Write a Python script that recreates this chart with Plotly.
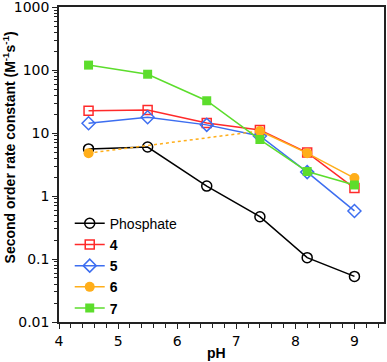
import plotly.graph_objects as go

ph = [4.5, 5.5, 6.5, 7.4, 8.2, 9.0]
phosphate = [5.6, 6.0, 1.44, 0.47, 0.105, 0.053]
cmp4 = [22.6, 23.3, 14.5, 11.2, 4.9, 1.34]
cmp5 = [14.3, 17.8, 13.5, 9.0, 2.4, 0.58]
cmp6_ph = [4.5, 7.4, 8.2, 9.0]
cmp6 = [4.8, 10.8, 4.8, 1.93]
cmp7 = [120, 86, 32.6, 7.9, 2.45, 1.5]

y_tickvals = [0.01, 0.1, 1, 10, 100, 1000]
y_ticktext = ["0.01", "0.1", "1", "10", "100", "1000"]

RED = "#FF2A2A"
BLUE = "#3D6EF0"
ORANGE = "#FFAE1A"
GREEN = "#5CDD2C"

fig = go.Figure()
fig.add_trace(go.Scatter(x=ph, y=phosphate, name="Phosphate", mode="lines+markers",
                         line=dict(color="black", width=1.5),
                         marker=dict(symbol="circle-open", size=10, color="black", line=dict(width=1.5))))
fig.add_trace(go.Scatter(x=ph, y=cmp4, name="<b>4</b>", mode="lines+markers",
                         line=dict(color=RED, width=1.5),
                         marker=dict(symbol="square-open", size=9, color=RED, line=dict(width=1.5))))
fig.add_trace(go.Scatter(x=ph, y=cmp5, name="<b>5</b>", mode="lines+markers",
                         line=dict(color=BLUE, width=1.5),
                         marker=dict(symbol="diamond-open", size=10, color=BLUE, line=dict(width=1.5))))
# compound 6: dotted segment between first two points, solid afterwards
fig.add_trace(go.Scatter(x=cmp6_ph[:2], y=cmp6[:2], mode="lines", showlegend=False,
                         line=dict(color=ORANGE, width=1.5, dash="dot")))
fig.add_trace(go.Scatter(x=cmp6_ph[:1], y=cmp6[:1], mode="markers", showlegend=False,
                         marker=dict(symbol="circle", size=10, color=ORANGE)))
fig.add_trace(go.Scatter(x=cmp6_ph[1:], y=cmp6[1:], name="<b>6</b>", mode="lines+markers",
                         line=dict(color=ORANGE, width=1.5),
                         marker=dict(symbol="circle", size=10, color=ORANGE)))
fig.add_trace(go.Scatter(x=ph, y=cmp7, name="<b>7</b>", mode="lines+markers",
                         line=dict(color=GREEN, width=1.5),
                         marker=dict(symbol="square", size=9, color=GREEN)))

tick_font = dict(family="DejaVu Sans, Arial, sans-serif", size=14, color="black")
title_font = dict(family="Liberation Sans, Arial, sans-serif", size=14, color="black")

fig.update_layout(
    width=387, height=362,
    margin=dict(l=59, r=3, t=7, b=40, autoexpand=False),
    paper_bgcolor="white", plot_bgcolor="white",
    font=dict(family="Liberation Sans, Arial, sans-serif", size=14, color="black"),
    showlegend=True,
    legend=dict(x=0.033, y=0.363, xanchor="left", yanchor="top",
                bgcolor="rgba(0,0,0,0)", font=dict(size=14),
                tracegroupgap=0, itemwidth=30),
    xaxis=dict(range=[4, 9.5], dtick=1, tick0=4, showgrid=False, zeroline=False,
               automargin=False, ticklabeloverflow="allow",
               showline=True, linecolor="#222", linewidth=1.5, mirror=True,
               ticks="outside", ticklen=5, tickwidth=1.2, tickcolor="#222",
               minor=dict(dtick=0.2, ticks="outside", ticklen=4, tickwidth=1.2, tickcolor="#222"),
               tickfont=tick_font),
    yaxis=dict(type="log", range=[-2, 3.002], tickvals=y_tickvals, ticktext=y_ticktext,
               showgrid=False, zeroline=False, automargin=False, ticklabeloverflow="allow",
               showline=True, linecolor="#222", linewidth=1.5, mirror=True,
               ticks="outside", ticklen=5, tickwidth=1.2, tickcolor="#222",
               minor=dict(dtick="D1", ticks="outside", ticklen=3, tickwidth=1, tickcolor="#222"),
               tickfont=tick_font),
    annotations=[
        dict(text="<b>pH</b>", x=0.486, y=-0.098, xref="paper", yref="paper",
             xanchor="center", yanchor="middle", showarrow=False, font=title_font),
        dict(text="<b>Second order rate constant (M<sup>-1</sup>s<sup>-1</sup>)</b>",
             x=-0.151, y=0.554, xref="paper", yref="paper", textangle=-90,
             xanchor="center", yanchor="middle", showarrow=False, font=title_font),
    ],
)

fig.write_html("out.html", config={"displayModeBar": False},
               post_script="document.body.style.margin='0';document.body.style.overflow='hidden';")
